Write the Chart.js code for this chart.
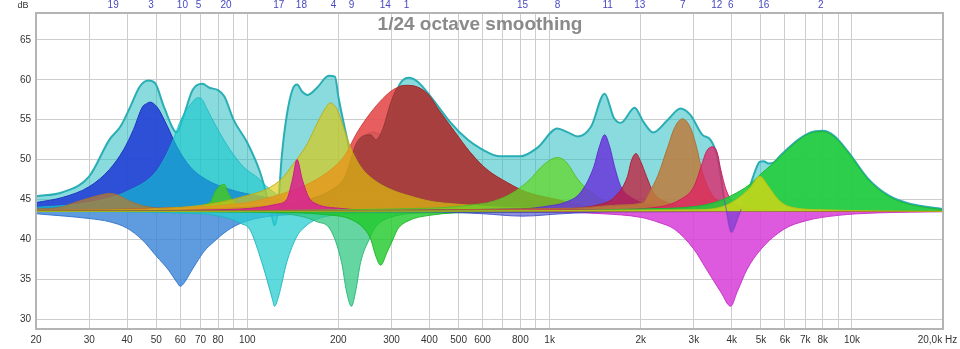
<!DOCTYPE html>
<html>
<head>
<meta charset="utf-8">
<script src="https://cdn.jsdelivr.net/npm/chart.js@4.4.0/dist/chart.umd.min.js"></script>
<style>
  html, body { margin: 0; padding: 0; background: #fff; overflow: hidden; }
</style>
</head>
<body>
<canvas id="eqChart" width="960" height="349"></canvas>
<script>
// baseline level of the filter plots (dB)
const BASE = 43.5;

// x axis ticks (grid) and their labels
const xTickHz = [20, 30, 40, 50, 60, 70, 80, 90, 100, 200, 300, 400, 500, 600, 700, 800, 900,
                 1000, 2000, 3000, 4000, 5000, 6000, 7000, 8000, 9000, 10000, 20000];
const xTickLabels = ['20', '30', '40', '50', '60', '70', '80', '', '100', '200', '300', '400', '500', '600', '', '800', '',
                     '1k', '2k', '3k', '4k', '5k', '6k', '7k', '8k', '', '10k', '20,0k Hz    '];
const yTicks = [30, 35, 40, 45, 50, 55, 60, 65];

// filter numbers along the top and their centre frequencies
const filterNo = [19, 3, 10, 5, 20, 17, 18, 4, 9, 14, 1, 15, 8, 11, 13, 7, 12, 6, 16, 2];
const filterHz = [36, 48, 61, 69, 85, 127, 151, 193, 221, 286, 336, 813, 1062, 1556, 1986, 2754, 3570, 3972, 5107, 7887];

// combined response [Hz, dB]
const totalResp = [[20,45.4],[24.5,45.9],[30,47.9],[35,52.5],[38,54.1],[41,56.6],[44,59.1],[47,59.9],[49.5,59.6],
  [53,56.6],[58.5,53.4],[61,55],[66,58.75],[71,59.5],[75,59.0],[80,58.7],[84,57.9],[90,55],[100,52.1],[110,48.5],
  [115,46],[120,43.3],[123,41.75],[126,43.5],[130,50.4],[135,55.5],[141,58.75],[146,59.4],[152,58.5],[158,58.1],
  [170,59],[186,60.5],[195,60.4],[200,57.9],[213,52.9],[223,49.75],[231,51.25],[245,52.9],[261,53.4],[276,53.1],
  [298,56.6],[321,59.6],[342,60.25],[366,59.75],[404,57.9],[471,54.6],[535,52.5],[590,51.4],[687,50.4],[800,50.4],
  [912,51.5],[1060,53.9],[1150,53.4],[1240,52.9],[1370,54.1],[1520,58.25],[1630,55.25],[1720,54.6],[1910,56.5],
  [2040,54.75],[2200,53.4],[2460,55],[2710,56.4],[2920,55.6],[3200,53.1],[3400,52.5],[3580,50.5],[3680,48],
  [3780,45],[3850,43.5],[3920,41.8],[3990,40.9],[4080,41.5],[4200,42.8],[4300,43.8],[4450,45.3],[4600,46.7],
  [4800,48.7],[4950,49.7],[5100,49.8],[5300,49.5],[5500,49.6],[5800,50.5],[6650,52.5],[7300,53.4],[8000,53.6],
  [8700,53.0],[9700,51],[11300,47.6],[13200,45.5],[15400,44.5],[20000,43.8]];

// single filters [Hz, dB]
const f1 = [[20,43.6],[50,43.9],[100,44.6],[120,45.3],[140,46.1],[162,47.1],[190,48.8],[210,50.5],[230,53.3],
  [255,55.8],[280,57.6],[305,58.8],[336,59.3],[370,59.0],[400,58.0],[430,56.2],[487,53.4],[546,50.9],[620,48.75],
  [725,47.1],[840,45.9],[1050,45],[1340,44.1],[2000,43.7],[3000,43.55],[20000,43.5]];
const f1Core = [[20,43.5],[120,44.2],[160,45],[190,46.2],[210,47.8],[220,50],[228,51.8],[240,52.9],[256,53.1],
  [266,52.5],[280,53.75],[298,57.1],[314,59],[336,59.3],[370,59.0],[400,58.0],[430,56.2],[487,53.4],[546,50.9],
  [620,48.75],[725,47.1],[840,45.9],[1050,45],[1340,44.1],[2000,43.7],[3000,43.55],[20000,43.5]];
const f2 = [[20,43.5],[1000,43.6],[2000,43.8],[3000,44.1],[3500,44.6],[4000,45.5],[4600,46.9],[5000,48.2],
  [5400,49.3],[5800,50.4],[6650,52.4],[7300,53.3],[8000,53.5],[8700,52.9],[9700,50.9],[11300,47.5],[13200,45.4],
  [15400,44.4],[20000,43.7]];
const f3 = [[20,44.6],[24.5,45.25],[30,46.6],[35,48.75],[39,51.25],[42,53.75],[45,56.6],[46.4,57.0],[47.7,57.2],
  [49,57.0],[50.5,56.5],[54.5,54.1],[58.5,51.6],[64.7,49.1],[73,47.5],[87.6,46.25],[110,45.4],[150,44.6],[200,44.2],
  [300,43.9],[500,43.7],[1000,43.6],[20000,43.5]];
const f4 = [[20,43.6],[60,44.0],[80,44.6],[100,45.5],[116,46.3],[130,47.6],[141,49.3],[158,52],[170,54.5],
  [181,56.4],[188,57.1],[198,56.3],[208,54.1],[219,51.6],[237,49.1],[261,47.5],[298,46.25],[347,45.4],[405,44.75],
  [495,44.4],[700,44.0],[1000,43.8],[2000,43.6],[20000,43.5]];
const f5 = [[20,44.0],[30,44.6],[40,46],[50,48.5],[55.6,51.6],[61,55.4],[66,57.25],[68.5,57.75],[71,57.5],[73,56.6],
  [79,54.1],[87.6,51.25],[97,49.1],[110,47.5],[116,46.6],[130,45.3],[160,44.5],[200,44.1],[300,43.8],[1000,43.6],
  [20000,43.5]];
const f6 = [[20,43.5],[1000,43.4],[1500,43.2],[2000,42.75],[2300,42.1],[2590,41.25],[3000,38.75],[3300,36.25],
  [3680,33.4],[3970,31.6],[4170,33.4],[4500,36.25],[5000,38.75],[5950,41.25],[7000,42.3],[9000,43],[12000,43.3],
  [20000,43.45]];
const f7 = [[20,43.5],[1200,43.9],[1700,44.3],[2040,44.6],[2140,45.9],[2280,48],[2460,51.6],[2590,54],[2750,55.1],
  [2920,54],[3060,51.6],[3200,48.4],[3400,45.9],[3700,44.6],[4500,43.9],[6000,43.6],[20000,43.5]];
const f8 = [[20,43.5],[400,43.9],[550,44.3],[650,44.75],[760,45.9],[860,47.5],[934,49],[1010,50],[1060,50.25],
  [1110,50],[1150,49.4],[1240,47.5],[1370,45.9],[1560,44.6],[2000,44],[3000,43.7],[20000,43.5]];
const f9 = [[20,43.5],[100,43.4],[150,42.9],[170,42.2],[188,41.25],[205,37.1],[213,33.4],[221,31.6],[228,33.4],
  [237,37.1],[253,40],[265,41.5],[300,42.8],[400,43.3],[20000,43.5]];
const f10 = [[20,43.2],[25,42.9],[30,42.6],[35,42.2],[40,41.4],[45,39.9],[50,37.9],[55,36.1],[58.5,34.6],[60,34.1],
  [62,34.6],[65,35.9],[68,37.1],[72,38.5],[77,39.6],[86,41.1],[95,42],[110,42.7],[140,43.1],[200,43.35],[400,43.45],
  [20000,43.5]];
const f11 = [[20,43.5],[800,43.8],[1000,44.2],[1120,44.6],[1267,45.9],[1400,49.1],[1460,51.6],[1520,53.1],
  [1580,51.6],[1640,49.1],[1720,46.6],[1860,45.25],[2100,44.4],[2600,43.9],[20000,43.5]];
const f12 = [[20,43.5],[1500,43.7],[2330,44.1],[2710,45],[3000,46.6],[3200,49.6],[3300,51],[3450,51.6],[3580,50.9],
  [3680,48.75],[3830,46.25],[4050,44.6],[4600,43.9],[6000,43.6],[20000,43.5]];
const f13 = [[20,43.5],[1000,43.8],[1475,44.4],[1640,45.3],[1810,47.9],[1860,49.75],[1930,50.75],[2000,49.75],
  [2090,47.9],[2200,45.9],[2460,44.6],[3000,44],[4000,43.7],[20000,43.5]];
const f14 = [[20,43.5],[120,43.4],[180,43.1],[220,42.5],[245,41.2],[256,40],[266,37.9],[276,36.75],[290,38.4],
  [305,40.2],[314,41.25],[340,42.3],[400,43],[600,43.4],[20000,43.5]];
const f15 = [[20,43.5],[400,43.45],[600,43.2],[813,42.9],[1100,43.2],[1600,43.45],[20000,43.5]];
const f16 = [[20,43.5],[3000,43.7],[3800,44.2],[4290,45.4],[4630,46.6],[4950,47.9],[5300,46.6],[5700,45],
  [6200,44.1],[8000,43.7],[20000,43.5]];
const f17 = [[20,43.5],[70,43.2],[85,42.7],[95,42],[102,41.2],[110,37.9],[116,35],[121,32.5],[123,31.6],[127,32.9],
  [135,37.1],[146,40.4],[152,41.25],[165,42.3],[190,43],[250,43.3],[20000,43.5]];
const f18 = [[20,43.5],[80,43.7],[110,44.0],[125,44.4],[135,45],[141,47.5],[146,50],[152,47.5],[160,45.2],
  [170,44.4],[200,43.9],[300,43.6],[20000,43.5]];
const f19 = [[20,43.8],[24,44.0],[27.5,44.75],[31.5,45.4],[35,45.75],[37,45.6],[41,44.75],[46.5,44.1],[60,43.7],
  [100,43.55],[20000,43.5]];
const f20 = [[20,43.5],[60,43.9],[75,44.6],[79,46.25],[84,46.9],[86,46],[90,44.75],[100,44.1],[120,43.8],[200,43.6],
  [20000,43.5]];

function pts(arr) {
  return arr.map(p => ({ x: p[0], y: p[1] }));
}

function layer(label, arr, fillCol, lineCol, width) {
  return {
    label: label,
    data: pts(arr),
    backgroundColor: fillCol,
    borderColor: lineCol,
    borderWidth: width || 1,
    fill: { value: BASE },
    pointRadius: 0,
    cubicInterpolationMode: 'monotone'
  };
}

// bottom -> top drawing order
const layers = [
  layer('total', totalResp, 'rgba(40,190,195,0.55)', '#2aaeb4', 2),
  layer('10', f10, 'rgba(55,130,215,0.8)', 'rgba(45,115,200,0.9)'),
  layer('17', f17, 'rgba(40,205,210,0.75)', 'rgba(30,180,190,0.9)'),
  layer('9', f9, 'rgba(50,200,130,0.75)', 'rgba(40,180,115,0.9)'),
  layer('14', f14, 'rgba(30,200,40,0.8)', 'rgba(25,180,35,0.9)'),
  layer('6', f6, 'rgba(215,60,215,0.85)', 'rgba(195,45,195,0.9)'),
  layer('15', f15, 'rgba(60,70,200,0.6)', 'rgba(60,70,200,0.8)'),
  layer('3', f3, 'rgba(35,65,215,0.9)', 'rgba(30,50,190,1)'),
  layer('5', f5, 'rgba(20,200,205,0.6)', 'rgba(20,185,190,0.8)'),
  layer('19', f19, 'rgba(190,125,40,0.7)', 'rgba(170,110,40,0.8)'),
  layer('20', f20, 'rgba(70,200,40,0.85)', 'rgba(60,180,35,0.9)'),
  layer('1', f1, 'rgba(230,75,75,0.9)', 'rgba(200,60,60,0.9)'),
  layer('1b', f1Core, 'rgba(160,60,60,0.85)', 'rgba(140,50,50,0.8)'),
  layer('4', f4, 'rgba(225,200,10,0.65)', 'rgba(190,170,20,0.9)'),
  layer('18', f18, 'rgba(215,30,150,0.85)', 'rgba(195,25,135,0.9)'),
  layer('8', f8, 'rgba(100,215,40,0.75)', 'rgba(85,190,35,0.9)'),
  layer('11', f11, 'rgba(105,55,220,0.85)', 'rgba(90,45,200,0.9)'),
  layer('13', f13, 'rgba(195,25,55,0.75)', 'rgba(175,25,50,0.9)'),
  layer('7', f7, 'rgba(190,125,60,0.85)', 'rgba(170,110,50,0.9)'),
  layer('12', f12, 'rgba(225,30,100,0.75)', 'rgba(205,25,90,0.9)'),
  layer('2', f2, 'rgba(35,205,60,0.9)', 'rgba(30,180,50,1)'),
  layer('16', f16, 'rgba(215,215,20,0.8)', 'rgba(190,190,20,0.9)')
];

// part of the combined response that falls below the baseline near 4 kHz
const totalDip = layer('totalDip', totalResp.filter(p => p[0] >= 3700 && p[0] <= 4400),
  'rgba(0,0,0,0)', 'rgba(120,70,200,0.8)', 1);
totalDip.fill = { target: { value: BASE }, above: 'rgba(0,0,0,0)', below: 'rgba(120,60,210,0.6)' };
layers.push(totalDip);

layers.forEach((ds, i) => { ds.order = layers.length - i; });

const font = { family: '"Liberation Sans", Arial, sans-serif', size: 10 };

const framePlugin = {
  id: 'frame',
  afterDraw(chart) {
    const ctx = chart.ctx;
    const a = chart.chartArea;
    ctx.save();
    ctx.strokeStyle = '#b4b4b4';
    ctx.lineWidth = 2;
    ctx.strokeRect(a.left, a.top, a.right - a.left, a.bottom - a.top);
    ctx.fillStyle = '#8a8a8a';
    ctx.font = 'bold 19px "Liberation Sans", Arial, sans-serif';
    ctx.textAlign = 'center';
    ctx.textBaseline = 'alphabetic';
    ctx.fillText('1/24 octave smoothing', chart.width / 2, 30);
    ctx.fillStyle = '#333';
    ctx.font = '9px "Liberation Sans", Arial, sans-serif';
    ctx.textBaseline = 'middle';
    ctx.fillText('dB', 23, 6);
    ctx.restore();
  }
};

new Chart(document.getElementById('eqChart').getContext('2d'), {
  type: 'line',
  data: { datasets: layers },
  options: {
    responsive: false,
    animation: false,
    devicePixelRatio: 1,
    events: [],
    layout: { padding: { left: 0, right: 17, top: 0, bottom: 0 } },
    plugins: { legend: { display: false }, tooltip: { enabled: false } },
    scales: {
      x: {
        type: 'logarithmic',
        position: 'bottom',
        min: 20,
        max: 20000,
        afterBuildTicks: s => { s.ticks = xTickHz.map(v => ({ value: v })); },
        afterFit: s => { s.height = 20; s.paddingLeft = 0; s.paddingRight = 0; },
        ticks: {
          autoSkip: false, maxRotation: 0, minRotation: 0, padding: 5,
          color: '#333', font: font,
          callback: (v, i) => xTickLabels[i]
        },
        grid: { color: '#cdcdcd', lineWidth: 1, drawTicks: false },
        border: { display: false }
      },
      xTop: {
        type: 'logarithmic',
        position: 'top',
        min: 20,
        max: 20000,
        afterBuildTicks: s => { s.ticks = filterHz.map(v => ({ value: v })); },
        afterFit: s => { s.height = 13; s.paddingLeft = 0; s.paddingRight = 0; },
        ticks: {
          autoSkip: false, maxRotation: 0, minRotation: 0, padding: 2,
          color: '#4848c0', font: font,
          callback: (v, i) => String(filterNo[i])
        },
        grid: { display: false, drawTicks: false },
        border: { display: false }
      },
      y: {
        min: 28.75,
        max: 68.375,
        afterBuildTicks: s => { s.ticks = yTicks.map(v => ({ value: v })); },
        afterFit: s => { s.width = 36; s.paddingTop = 0; s.paddingBottom = 0; },
        ticks: { padding: 5, color: '#333', font: font, callback: v => String(v) },
        grid: { color: '#cdcdcd', lineWidth: 1, drawTicks: false },
        border: { display: false }
      }
    }
  },
  plugins: [framePlugin]
});
</script>
</body>
</html>
